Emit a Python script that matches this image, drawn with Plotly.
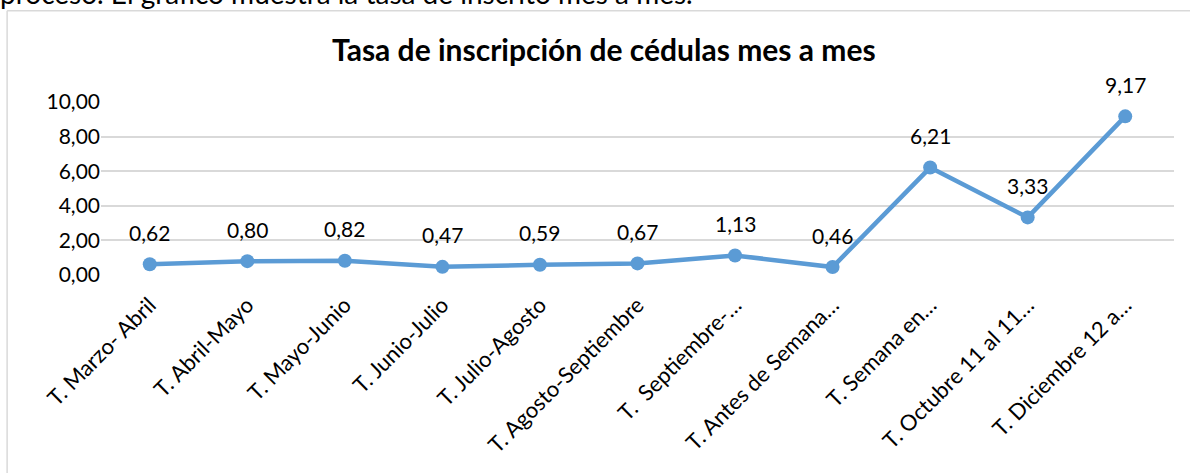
import plotly.graph_objects as go

categories = ["T. Marzo- Abril", "T. Abril-Mayo", "T. Mayo-Junio", "T. Junio-Julio",
              "T. Julio-Agosto", "T. Agosto-Septiembre", "T.  Septiembre-…",
              "T. Antes de Semana…", "T. Semana en…", "T. Octubre 11 al 11…",
              "T. Diciembre 12 a…"]
values = [0.62, 0.80, 0.82, 0.47, 0.59, 0.67, 1.13, 0.46, 6.21, 3.33, 9.17]
ytick_vals = [0, 2, 4, 6, 8, 10]

FONT = "Lato, 'Open Sans', sans-serif"
COLOR = "#5B9BD5"

fig = go.Figure()
fig.add_trace(go.Scatter(
    x=categories, y=values, mode="lines+markers",
    line=dict(color=COLOR, width=4.5),
    marker=dict(color=COLOR, size=14),
    hoverinfo="skip", showlegend=False,
))

annotations = []
for c, v in zip(categories, values):
    annotations.append(dict(
        x=c, y=v, xref="x", yref="y", text=f"{v:.2f}".replace(".", ","),
        showarrow=False, yshift=32, font=dict(family=FONT, size=21, color="#000000"),
    ))
annotations.append(dict(
    x=-0.096, y=1.52, xref="paper", yref="paper", xanchor="left", yanchor="bottom",
    text="proceso. El gráfico muestra la tasa de inscrito mes a mes.", showarrow=False,
    font=dict(family=FONT, size=28, color="#000000"),
))
annotations.append(dict(
    x=0.469, y=1.305, xref="paper", yref="paper", xanchor="center", yanchor="middle",
    text="<b>Tasa de inscripción de cédulas mes a mes</b>", showarrow=False,
    font=dict(family=FONT, size=30, color="#000000"),
))

fig.update_layout(
    width=1190, height=473,
    margin=dict(l=101, r=16, t=102, b=198),
    paper_bgcolor="white", plot_bgcolor="white",
    separators=",.",
    annotations=annotations,
    shapes=[
        dict(type="line", xref="paper", yref="paper", x0=-0.0875, x1=-0.0875, y0=-2, y1=1.528,
             line=dict(color="#D9D9D9", width=1.5)),
        dict(type="line", xref="paper", yref="paper", x0=-0.0875, x1=1.1, y0=1.528, y1=1.528,
             line=dict(color="#D9D9D9", width=1.5)),
    ],
    xaxis=dict(
        type="category", tickangle=-45, showgrid=False, zeroline=False, showline=False,
        ticks="", tickfont=dict(family=FONT, size=22, color="#000000"),
        range=[-0.5, len(categories) - 0.5], automargin=False, ticklabelstandoff=12,
    ),
    yaxis=dict(
        range=[0, 10], tickvals=ytick_vals, tickformat=".2f", showgrid=True,
        gridcolor="#D9D9D9", gridwidth=1.5, zeroline=False, showline=False,
        tickfont=dict(family=FONT, size=21, color="#000000"), ticks="", ticklen=0,
        automargin=False,
    ),
)

fig.write_html("out.html", config={"displayModeBar": False},
               post_script="document.body.style.margin='0';document.body.style.overflow='hidden';")
